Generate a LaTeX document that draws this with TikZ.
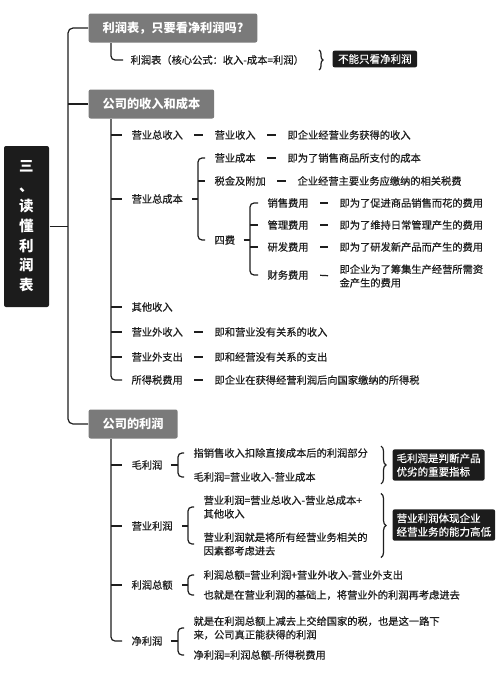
\documentclass[tikz,border=0pt]{standalone}
\usepackage{fontspec}
\setmainfont{Noto Sans CJK SC}[UprightFeatures={FakeBold=0.45}]
\usetikzlibrary{decorations.pathreplacing}
\definecolor{ink}{HTML}{1E1E1E}
\definecolor{boxgray}{HTML}{7A7A7A}
\definecolor{boxdark}{HTML}{1C1C1C}

\begin{document}
\begin{tikzpicture}[x=1pt, y=-1pt, line width=1.2pt,
    leaf/.style={anchor=west, inner xsep=5pt, inner ysep=1.5pt, align=left, text=ink,
        font=\fontsize{10.25}{13.5}\selectfont},
    topic/.style={anchor=west, fill=boxgray, rounded corners=2pt, text=white, inner xsep=14pt,
        minimum height=29pt, font=\bfseries\fontsize{12.2}{14}\selectfont},
    note/.style={anchor=west, fill=boxdark, rounded corners=2pt, text=white, align=left,
        inner sep=4pt, font=\fontsize{10.5}{13.5}\selectfont},
    tie/.style={draw=ink, shorten <=6pt, shorten >=6pt},
    link/.style={draw=ink, rounded corners=4pt},
    curly/.style={draw=ink, decorate, decoration={brace, amplitude=5pt}}]
    \useasboundingbox[fill=white] (0,0) rectangle (500,680);

    % Root
    \node[fill=boxdark, rounded corners=2pt, text=white, minimum width=45pt, minimum height=161pt,
        align=center, font=\bfseries\fontsize{14.5}{19.8}\selectfont] (root) at (26.5,226.5)
        {三\\、\\读\\懂\\利\\润\\表};
    \coordinate (trunk) at (68,226.5);
    \coordinate (sp) at (111,0);

    % Topics
    \node[topic] (t1) at (88,28) {利润表，只要看净利润吗?};
    \node[topic] (t2) at (88,104) {公司的收入和成本};
    \node[topic] (t3) at (88,424) {公司的利润};

    \draw[link, rounded corners=5pt] (t1.west) -| (trunk) |- (t3.west);
    \draw[ink] (trunk |- t2.west) -- (t2.west);
    \draw[ink] (root.east) -- (trunk);

    % First topic
    \node[leaf] (f1) at (125,60) {利润表（核心公式：收入-成本=利润）};
    \node[note, inner xsep=5.5pt, inner ysep=3.5pt] (n1) at (332,59) {不能只看净利润};
    \draw[link, shorten >=2pt] (t1.south -| sp) |- (f1.west);
    \draw[curly, decoration={amplitude=4pt}] ([xshift=-13pt, yshift=3pt]n1.west |- f1.north) -- ([xshift=-13pt, yshift=-3pt]n1.west |- f1.south);

    % Income and cost
    \node[leaf] (a1) at (126,135) {营业总收入};
    \node[leaf] (a1b) at (209,135) {营业收入};
    \node[leaf] (a1c) at (282,135) {即企业经营业务获得的收入};
    \node[leaf] (a2) at (126,199) {营业总成本};
    \node[leaf] (b1) at (209,158) {营业成本};
    \node[leaf] (b1d) at (282,158) {即为了销售商品所支付的成本};
    \node[leaf] (b2) at (209,181) {税金及附加};
    \node[leaf] (b2d) at (292,181) {企业经营主要业务应缴纳的相关税费};
    \node[leaf] (b3) at (209,240) {四费};
    \node[leaf] (c1) at (262,203) {销售费用};
    \node[leaf] (c1d) at (334,203) {即为了促进商品销售而花的费用};
    \node[leaf] (c2) at (262,225) {管理费用};
    \node[leaf] (c2d) at (334,225) {即为了维持日常管理产生的费用};
    \node[leaf] (c3) at (262,247) {研发费用};
    \node[leaf] (c3d) at (334,247) {即为了研发新产品而产生的费用};
    \node[leaf] (c4) at (262,275) {财务费用};
    \node[leaf] (c4d) at (334,276) {即企业为了筹集生产经营所需资\\金产生的费用};
    \node[leaf] (a3) at (126,307) {其他收入};
    \node[leaf] (a4) at (126,332) {营业外收入};
    \node[leaf] (a4d) at (209,332) {即和营业没有关系的收入};
    \node[leaf] (a5) at (126,357) {营业外支出};
    \node[leaf] (a5d) at (209,357) {即和经营没有关系的支出};
    \node[leaf] (a6) at (126,380) {所得税费用};
    \node[leaf] (a6d) at (209,380) {即企业在获得经营利润后向国家缴纳的所得税};

    \draw[link, shorten >=4pt] (t2.south -| sp) |- (a6.west);
    \foreach \n in {a1,a2,a3,a4,a5}
        \draw[ink, shorten >=4pt] (sp |- \n.west) -- (\n.west);
    \draw[tie] (a1.east) -- (a1b.west);
    \draw[tie] (a1b.east) -- (a1c.west);
    \draw[tie] (b1.east) -- (b1d.west);
    \draw[tie] (b2.east) -- (b2d.west);
    \foreach \n in {c1,c2,c3,c4}
        \draw[tie] (\n.east) -- (\n d.west);
    \draw[tie] (a4.east) -- (a4d.west);
    \draw[tie] (a5.east) -- (a5d.west);
    \draw[tie] (a6.east) -- (a6d.west);

    \coordinate (bkA) at (198,0);
    \draw[link, shorten <=4pt, shorten >=4pt] (b1.west) -| (bkA |- a2.east) |- (b3.west);
    \draw[ink, shorten >=4pt] (bkA |- b2.west) -- (b2.west);
    \draw[ink, shorten <=4pt] (a2.east) -- (bkA |- a2.east);

    \coordinate (bkB) at (250,0);
    \draw[link, shorten <=4pt, shorten >=4pt] (c1.west) -| (bkB |- b3.east) |- (c4.west);
    \foreach \n in {c2,c3}
        \draw[ink, shorten >=4pt] (bkB |- \n.west) -- (\n.west);
    \draw[ink, shorten <=3pt] (b3.east) -- (bkB |- b3.east);

    % Profit
    \node[leaf] (d1) at (126,465) {毛利润};
    \node[leaf] (e1) at (188,453) {指销售收入扣除直接成本后的利润部分};
    \node[leaf] (e2) at (188,477) {毛利润=营业收入-营业成本};
    \node[note] (m1) at (392,465) {毛利润是判断产品\\优劣的重要指标};
    \node[leaf] (d2) at (126,526) {营业利润};
    \node[leaf] (e3) at (198,507) {营业利润=营业总收入-营业总成本+\\其他收入};
    \node[leaf] (e4) at (198,544) {营业利润就是将所有经营业务相关的\\因素都考虑进去};
    \node[note] (m2) at (392,525) {营业利润体现企业\\经营业务的能力高低};
    \node[leaf] (d3) at (126,585) {利润总额};
    \node[leaf] (e5) at (198,575) {利润总额=营业利润+营业外收入-营业外支出};
    \node[leaf] (e6) at (198,595) {也就是在营业利润的基础上，将营业外的利润再考虑进去};
    \node[leaf] (d4) at (126,641) {净利润};
    \node[leaf] (e7) at (188,628) {就是在利润总额上减去上交给国家的税，也是这一路下\\来，公司真正能获得的利润};
    \node[leaf] (e8) at (188,655) {净利润=利润总额-所得税费用};

    \draw[link, shorten >=4pt] (t3.south -| sp) |- (d4.west);
    \foreach \n in {d1,d2,d3}
        \draw[ink, shorten >=4pt] (sp |- \n.west) -- (\n.west);

    \coordinate (bkC) at (178,0);
    \coordinate (bkD) at (188,0);
    \draw[link, shorten <=4pt, shorten >=4pt] (e1.west) -| (bkC |- d1.east) |- (e2.west);
    \draw[ink, shorten <=3pt] (d1.east) -- (bkC |- d1.east);
    \draw[link, shorten <=4pt, shorten >=4pt] (e3.west) -| (bkD |- d2.east) |- (e4.west);
    \draw[ink, shorten <=4pt] (d2.east) -- (bkD |- d2.east);
    \draw[link, shorten <=4pt, shorten >=4pt] (e5.west) -| (bkD |- d3.east) |- (e6.west);
    \draw[ink, shorten <=4pt] (d3.east) -- (bkD |- d3.east);
    \draw[link, shorten <=4pt, shorten >=4pt] (e7.west) -| (bkC |- d4.east) |- (e8.west);
    \draw[ink, shorten <=3pt] (d4.east) -- (bkC |- d4.east);

    \draw[curly] ([xshift=-11pt]m1.west |- e1.north) -- ([xshift=-11pt]m1.west |- e2.south);
    \draw[curly] ([xshift=-11pt]m2.west |- e3.north) -- ([xshift=-11pt]m2.west |- e4.south);
\end{tikzpicture}
\end{document}
